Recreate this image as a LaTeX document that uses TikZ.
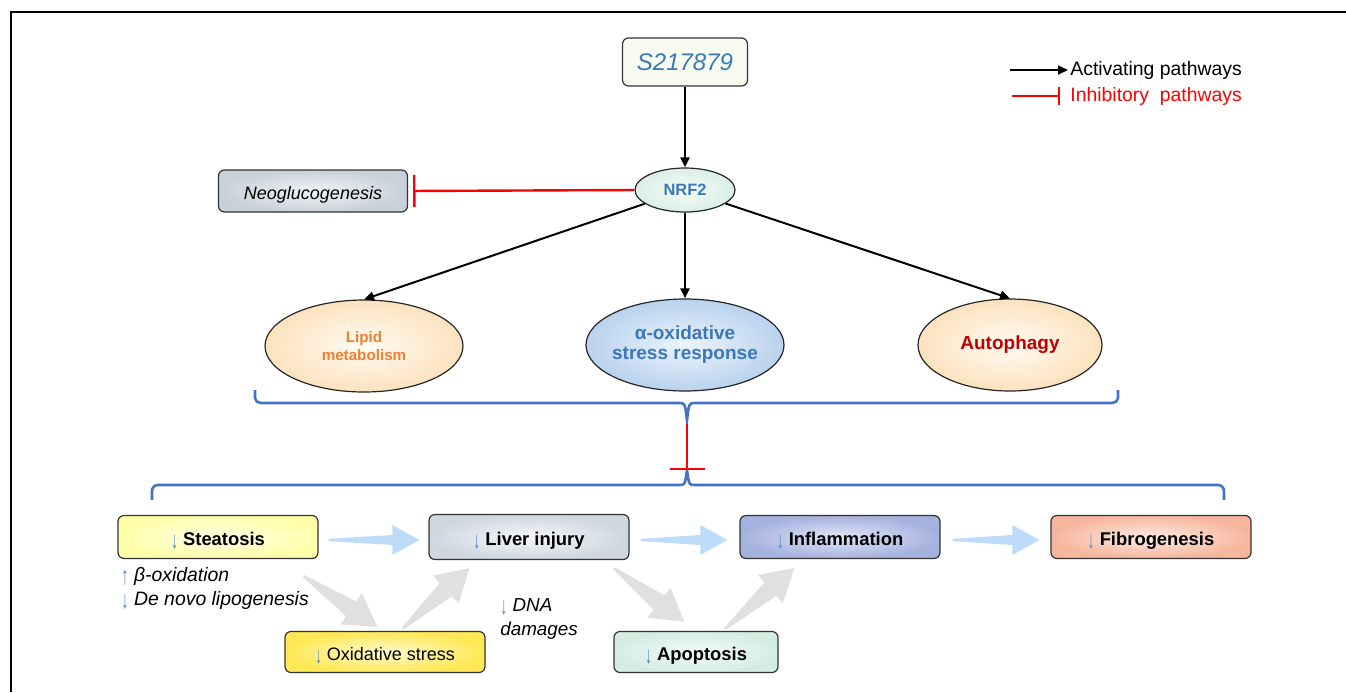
\documentclass[tikz,border=0pt]{standalone}
\usepackage{fontspec}
\setmainfont{Liberation Sans}
\usepackage{tikz}
\usetikzlibrary{positioning,arrows.meta,calc,shapes.geometric}
\definecolor{txtblue}{RGB}{59,120,184}
\definecolor{arrblue}{RGB}{80,134,198}
\definecolor{bracebl}{RGB}{68,114,196}
\definecolor{lipclr}{RGB}{240,128,48}
\definecolor{autclr}{RGB}{192,0,0}
\definecolor{fatblue}{RGB}{190,220,250}
\definecolor{fatgray}{RGB}{224,224,224}
\definecolor{drugfill}{RGB}{248,252,240}
\definecolor{stein}{RGB}{255,255,228}
\definecolor{steout}{RGB}{255,255,170}
\definecolor{livin}{RGB}{246,248,250}
\definecolor{livout}{RGB}{206,214,223}
\definecolor{infin}{RGB}{224,229,247}
\definecolor{infout}{RGB}{165,178,222}
\definecolor{fibin}{RGB}{253,234,225}
\definecolor{fibout}{RGB}{246,182,158}
\definecolor{oxsin}{RGB}{255,250,205}
\definecolor{oxsout}{RGB}{255,232,85}
\definecolor{apoin}{RGB}{243,251,248}
\definecolor{apoout}{RGB}{212,237,227}
\definecolor{neoin}{RGB}{241,244,247}
\definecolor{neoout}{RGB}{200,208,218}
\definecolor{nrfin}{RGB}{245,251,248}
\definecolor{nrfout}{RGB}{218,239,230}
\definecolor{orgin}{RGB}{255,251,243}
\definecolor{orgout}{RGB}{252,226,190}
\definecolor{alpin}{RGB}{236,244,251}
\definecolor{alpout}{RGB}{185,210,238}
\newcommand\dnarr{\textcolor{arrblue}{\mdseries\upshape\raisebox{-0.3ex}{\scalebox{0.75}[1.3]{↓}}}}
\newcommand\uparr{\textcolor{arrblue}{\mdseries\upshape\raisebox{-0.3ex}{\scalebox{0.75}[1.3]{↑}}}}
% tail, tip, colour, body half width, head half width, head length
\newcommand\fatarrow[6]{%
  \path (#1) coordinate (fatT) (#2) coordinate (fatP);
  \path ($(fatP)!#6!(fatT)$) coordinate (fatH);
  \fill[#3] ($(fatT)!0.6pt!90:(fatP)$) -- ($(fatH)!#4!90:(fatP)$) -- ($(fatH)!#5!90:(fatP)$)
    -- (fatP) -- ($(fatH)!#5!-90:(fatP)$) -- ($(fatH)!#4!-90:(fatP)$)
    -- ($(fatT)!0.6pt!-90:(fatP)$) -- cycle;
}
\tikzset{
  effbox/.style={rectangle,rounded corners=3pt,draw=black!80,line width=0.6pt,
                 minimum width=100pt,minimum height=21.5pt,inner sep=1pt,
                 text height=8.5pt,text depth=0pt,
                 font=\fontsize{9.2}{11}\selectfont\bfseries},
  pathell/.style={ellipse,draw=black!85,line width=0.6pt,minimum width=99pt,
                  minimum height=46pt,inner xsep=-6pt,inner ysep=0pt,align=center,
                  font=\fontsize{9.5}{10}\selectfont\bfseries},
  act/.style={-{Triangle[length=5pt,width=4.5pt]},line width=1pt},
  inh/.style={-{Bar[width=16pt]},red,line width=1.2pt},
  brc/.style={draw=bracebl,line width=1.3pt},
}
\begin{document}
\begin{tikzpicture}[x=0.5pt,y=-0.5pt,font=\fontsize{9}{11}\selectfont]
\useasboundingbox (0,0) rectangle (1346,692);
\draw[line width=1pt] (1346,12) -- (11,12) -- (11,692);

% drug, NRF2 and its targets
\node[rectangle,rounded corners=3pt,draw=black!80,line width=0.6pt,fill=drugfill,
      minimum width=62.5pt,minimum height=24pt,text=txtblue,
      font=\fontsize{12}{14}\selectfont\itshape] (drug) at (685,62) {S217879};
\node[ellipse,draw=black!85,line width=0.6pt,inner color=nrfin,outer color=nrfout,
      minimum width=50pt,minimum height=22pt,inner sep=0pt,text=txtblue,
      font=\fontsize{8.2}{10}\selectfont\bfseries] (nrf) at (685,190) {NRF2};
\node[effbox,inner color=neoin,outer color=neoout,minimum width=94.5pt,minimum height=21pt,
      text height=8pt,font=\fontsize{9}{10}\selectfont\itshape] (neo) at (313,191) {Neoglucogenesis};
\node[pathell,inner color=orgin,outer color=orgout,text=lipclr,
      font=\fontsize{7.6}{9}\selectfont\bfseries] (lip) at (364,346) {Lipid\\metabolism};
\node[pathell,inner color=alpin,outer color=alpout,text=txtblue] (alp) at (685,345) {α-oxidative\\stress response};
\node[pathell,inner color=orgin,outer color=orgout,text=autclr,minimum width=92pt] (aut) at (1010,345) {Autophagy};

\draw[act] (drug) -- (nrf);
\draw[inh,shorten >=2.5pt] (nrf.west) -- (neo.east);
\draw[act] (nrf) -- (lip.north);
\draw[act] (nrf) -- (alp.north);
\draw[act] (nrf) -- (aut.north);

% legend
\node[anchor=west,inner sep=1pt,font=\fontsize{9.7}{11}\selectfont] (lgact) at (1068,70) {Activating pathways};
\node[anchor=west,inner sep=1pt,text=red,font=\fontsize{9.7}{11}\selectfont] (lginh) at (1068,96) {Inhibitory\ \ pathways};
\coordinate (lga) at (1010,70);
\coordinate (lgi) at (1012,96);
\draw[act] (lga) -- (lgact.west);
\draw[-{Bar[width=9pt]},red,line width=1.2pt,shorten >=4pt] (lgi) -- (lginh.west);

% braces
\coordinate (tbL) at (255,390);
\coordinate (tbR) at (1118,390);
\coordinate (bbL) at (152,500);
\coordinate (bbR) at (1224,500);
\coordinate (tbtip) at (687,420);
\coordinate (bbtip) at (687,470);
\draw[brc] (tbL) -- (255,398) to[out=-90,in=180] (261,403) -- (679,403)
  .. controls (685,403) .. (tbtip) .. controls (689,403) .. (695,403)
  -- (1112,403) to[out=0,in=-90] (1118,398) -- (tbR);
\draw[brc] (bbL) -- (152,491) to[out=90,in=180] (158,485) -- (679,485)
  .. controls (685,485) .. (bbtip) .. controls (689,485) .. (695,485)
  -- (1218,485) to[out=0,in=90] (1224,491) -- (bbR);
\draw[inh,-{Bar[width=17.5pt]},shorten <=2pt] (tbtip) -- (bbtip);

% effects
\node[effbox,inner color=stein,outer color=steout] (ste) at (218,537) {\dnarr\ Steatosis};
\node[effbox,inner color=livin,outer color=livout,minimum height=22.5pt] (liv) at (529,537) {\dnarr\ Liver injury};
\node[effbox,inner color=infin,outer color=infout] (inf) at (840,537) {\dnarr\ Inflammation};
\node[effbox,inner color=fibin,outer color=fibout] (fib) at (1151,537) {\dnarr\ Fibrogenesis};
\node[effbox,inner color=oxsin,outer color=oxsout,minimum height=20.5pt,
      font=\fontsize{9}{11}\selectfont] (oxs) at (385,652) {\dnarr\ Oxidative stress};
\node[effbox,inner color=apoin,outer color=apoout,minimum width=82pt,minimum height=20.5pt] (apo) at (696,652) {\dnarr\ Apoptosis};

\node[anchor=north west,align=left,inner sep=0pt,font=\fontsize{9.7}{12}\selectfont\itshape] (lipnote)
  at (121,567) {\uparr\ β-oxidation\\\dnarr\ De novo lipogenesis};
\node[anchor=north west,align=left,inner sep=0pt,font=\fontsize{9.4}{12}\selectfont\itshape] (dnanote)
  at (500,598) {\dnarr\ DNA\\damages};

% fat arrows
\fatarrow{$(ste.east)+(10,3)$}{$(liv.west)+(-9,3)$}{fatblue}{2.5pt}{7.5pt}{13.5pt}
\fatarrow{$(liv.east)+(11,3)$}{$(inf.west)+(-12,3)$}{fatblue}{2.5pt}{7.5pt}{13.5pt}
\fatarrow{$(inf.east)+(12,3)$}{$(fib.west)+(-11,3)$}{fatblue}{2.5pt}{7.5pt}{13.5pt}
\fatarrow{$(ste.south east)+(-15,17)$}{$(oxs.north west)+(93,-4)$}{fatgray}{4.5pt}{9.5pt}{16pt}
\fatarrow{$(oxs.north west)+(118,-2)$}{$(liv.south west)+(41,8)$}{fatgray}{4.5pt}{9.5pt}{16pt}
\fatarrow{$(liv.south east)+(-16,8)$}{$(apo.north west)+(71,-9)$}{fatgray}{4.5pt}{9.5pt}{16pt}
\fatarrow{$(apo.north)+(29,-2)$}{$(inf.south west)+(55,9)$}{fatgray}{4.5pt}{9.5pt}{16pt}
\end{tikzpicture}
\end{document}
